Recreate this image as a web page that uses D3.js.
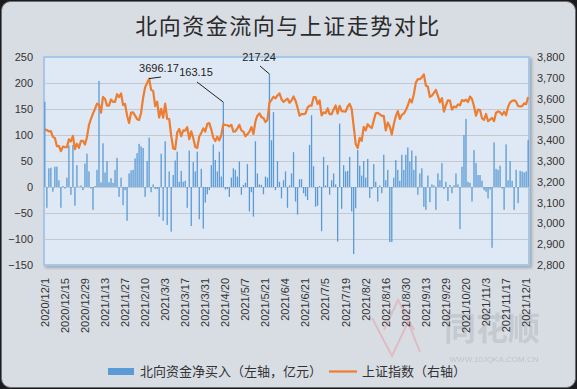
<!DOCTYPE html>
<html>
<head>
<meta charset="utf-8">
<script src="https://cdn.jsdelivr.net/npm/d3@7"></script>
<style>
  html, body { margin: 0; padding: 0; background: #1b1b1b; }
  svg { display: block; }
</style>
</head>
<body>
<svg id="chart" width="577" height="389"></svg>
<script>
// 北向资金净买入（亿元），每个交易日一个值
const flow = [
  164, -40, 36, 37, -9, 39, 39, 13, -40, 2,
  -3, 18, 80, -15, 81, -36, 42, 1, 3, -6,
  45, 64, 30, -3, -44, 2, 33, 204, 9, 84,
  28, 50, 9, 17, 8, 33, 56, -19, 18, -35,
  -6, -65, 26, 32, 33, 55, 65, 83, 78, 75,
  -19, 50, 95, -10, 5, -4, -4, -57, 64, -65,
  88, -73, 30, -86, 23, 51, 68, 10, 31, 10,
  12, -40, 70, -75, 48, 30, 68, -62, 35, -80,
  -30, -14, -6, 42, 82, 52, 30, 68, 20, 163.15,
  -5, -4, -19, 18, 36, 33, 20, 49, -15, 4,
  8, 44, -47, -10, -57, 88, 26, 5, 4, -14,
  20, 18, 217.24, 90, 144, -6, 50, 10, -22, 13,
  30, -40, 3, 26, 67, -28, -53, 15, 15, -12,
  -18, -25, 81, 138, 40, -38, -36, 2, -85, 58,
  3, 42, -15, 13, 26, 5, -105, 122, -42, 42,
  30, 31, 58, -47, -129, -41, 71, 41, 22, 50,
  18, 54, -21, -4, 44, 10, -28, 3, -12, 62,
  13, 33, -106, -106, 18, 52, 33, 12, 62, 33,
  62, 76, 49, 70, 33, 60, -15, 26, 36, -38,
  -44, 22, -29, 5, 3, -44, 26, 13, 46, -4,
  10, -27, 4, -12, 3, 26, 5, -81, 39, 100,
  131, 10, 8, -28, 71, 46, 23, 23, 12, -6,
  -9, -22, -5, -117, 86, 35, 33, 41, -3, -44,
  82, 13, 50, 12, -44, 33, -31, 31, 30, 28,
  30, 90
];

// 上证指数收盘
const sse = [
  3451, 3449, 3442, 3444, 3416, 3411, 3371, 3373, 3347, 3369,
  3367, 3366, 3404, 3394, 3421, 3357, 3383, 3363, 3397, 3397,
  3379, 3414, 3473, 3503, 3528, 3550, 3576, 3570, 3532, 3608,
  3598, 3566, 3566, 3596, 3584, 3584, 3621, 3607, 3625, 3569,
  3574, 3519, 3483, 3533, 3534, 3518, 3501, 3497, 3532, 3603,
  3655, 3675, 3696.17, 3642, 3637, 3564, 3585, 3509, 3551, 3508,
  3576, 3503, 3502, 3421, 3360, 3357, 3437, 3454, 3419, 3447,
  3446, 3463, 3405, 3443, 3411, 3367, 3363, 3418, 3435, 3457,
  3441, 3479, 3482, 3451, 3412, 3396, 3417, 3399, 3426, 3477,
  3473, 3472, 3466, 3474, 3441, 3442, 3457, 3474, 3447, 3441,
  3419, 3428, 3441, 3463, 3430, 3490, 3518, 3529, 3511, 3507,
  3487, 3498, 3581, 3593, 3609, 3601, 3615, 3625, 3597, 3584,
  3592, 3600, 3580, 3591, 3610, 3590, 3557, 3518, 3525, 3525,
  3529, 3557, 3566, 3566, 3607, 3607, 3574, 3591, 3519, 3534,
  3530, 3553, 3525, 3525, 3548, 3567, 3528, 3565, 3540, 3539,
  3537, 3562, 3575, 3550, 3467, 3382, 3362, 3411, 3397, 3464,
  3447, 3477, 3466, 3458, 3494, 3529, 3532, 3524, 3517, 3517,
  3447, 3485, 3466, 3427, 3477, 3515, 3540, 3502, 3522, 3528,
  3544, 3567, 3597, 3582, 3621, 3677, 3694, 3693, 3703, 3716,
  3663, 3657, 3608, 3614, 3628, 3642, 3613, 3582, 3602, 3537,
  3568, 3592, 3591, 3547, 3562, 3558, 3572, 3568, 3593, 3588,
  3595, 3583, 3610, 3598, 3563, 3518, 3547, 3545, 3505, 3498,
  3526, 3491, 3499, 3507, 3492, 3532, 3539, 3534, 3522, 3537,
  3520, 3561, 3582, 3589, 3592, 3585, 3564, 3563, 3564, 3577,
  3573, 3608
];

// 每 10 个交易日一个刻度
const tickLabels = [
  "2020/12/1", "2020/12/15", "2020/12/29", "2021/1/13", "2021/1/27",
  "2021/2/10", "2021/3/3", "2021/3/17", "2021/3/31", "2021/4/20",
  "2021/5/7", "2021/5/21", "2021/6/4", "2021/6/21", "2021/7/5",
  "2021/7/19", "2021/8/2", "2021/8/16", "2021/8/30", "2021/9/13",
  "2021/9/29", "2021/10/20", "2021/11/3", "2021/11/17", "2021/12/1"
];
const leftTicks = [-150, -100, -50, 0, 50, 100, 150, 200, 250];
const rightTicks = [2800, 2900, 3000, 3100, 3200, 3300, 3400, 3500, 3600, 3700, 3800];

const numFont = "'Liberation Sans', Arial, sans-serif";
const cjkFont = "'Noto Sans CJK SC', sans-serif";

const svg = d3.select("#chart");
const plot = { left: 44, right: 529, top: 57, bottom: 265 };

const x = d3.scaleBand()
  .domain(d3.range(flow.length))
  .range([plot.left, plot.right])
  .paddingInner(0.35)
  .paddingOuter(0.1);
const yL = d3.scaleLinear().domain([-150, 250]).range([plot.bottom, plot.top]);
const yR = d3.scaleLinear().domain([2800, 3800]).range([plot.bottom, plot.top]);
const cx = (i) => x(i) + x.bandwidth() / 2;

// panel background
svg.append("rect")
  .attr("x", 1.5).attr("y", 1.5)
  .attr("width", 574).attr("height", 386)
  .attr("rx", 9)
  .attr("fill", "#d8dde4")
  .attr("stroke", "#6b6f75")
  .attr("stroke-width", 1);

const defs = svg.append("defs");
const sh = defs.append("filter").attr("id", "shadow")
  .attr("x", "-5%").attr("y", "-5%").attr("width", "110%").attr("height", "115%");
sh.append("feDropShadow")
  .attr("dx", 2).attr("dy", 2).attr("stdDeviation", 1.5)
  .attr("flood-color", "#7d8590").attr("flood-opacity", 0.6);

// title
svg.append("text")
  .attr("x", 288).attr("y", 34)
  .attr("text-anchor", "middle")
  .attr("font-family", cjkFont)
  .attr("font-size", 22)
  .attr("letter-spacing", 1.5)
  .attr("fill", "#2b2b2b")
  .text("北向资金流向与上证走势对比");

// watermark
const wm = svg.append("g").attr("opacity", 0.5);
wm.append("path")
  .attr("d", "M372,318 L392,356 L408,322 L420,352 M384,330 L398,300 L414,330")
  .attr("fill", "none").attr("stroke", "#e79aa2").attr("stroke-width", 2);
wm.append("text")
  .attr("x", 492).attr("y", 340)
  .attr("text-anchor", "middle")
  .attr("font-family", cjkFont).attr("font-weight", 700)
  .attr("font-size", 32).attr("fill", "#b4b8be")
  .text("同花顺");
wm.append("text")
  .attr("x", 494).attr("y", 362)
  .attr("text-anchor", "middle")
  .attr("font-family", numFont)
  .attr("font-size", 8).attr("fill", "#a4a8ae")
  .text("WWW.10JQKA.COM.CN");

// plot area
svg.append("rect")
  .attr("x", plot.left).attr("y", plot.top)
  .attr("width", plot.right - plot.left)
  .attr("height", plot.bottom - plot.top)
  .attr("fill", "#dfe9f5")
  .attr("stroke", "#a8c7e8")
  .attr("stroke-width", 2)
  .attr("filter", "url(#shadow)");

// gridlines
svg.append("g")
  .selectAll("line")
  .data(leftTicks.filter((d) => d > -150 && d < 250))
  .join("line")
  .attr("x1", plot.left).attr("x2", plot.right)
  .attr("y1", (d) => Math.round(yL(d)) + 0.5)
  .attr("y2", (d) => Math.round(yL(d)) + 0.5)
  .attr("stroke", "#c4c9d0")
  .attr("stroke-width", 1);

// bars
svg.append("g")
  .selectAll("rect")
  .data(flow)
  .join("rect")
  .attr("x", (d, i) => x(i))
  .attr("width", x.bandwidth())
  .attr("y", (d) => yL(Math.max(0, d)))
  .attr("height", (d) => Math.abs(yL(d) - yL(0)))
  .attr("fill", "#5b9bd5");

// index line
svg.append("path")
  .datum(sse)
  .attr("fill", "none")
  .attr("stroke", "#ed7d31")
  .attr("stroke-width", 2.2)
  .attr("stroke-linejoin", "round")
  .attr("d", d3.line().x((d, i) => cx(i)).y((d) => yR(d)));

// left axis
svg.append("g")
  .attr("transform", `translate(${plot.left},0)`)
  .call(d3.axisLeft(yL).tickValues(leftTicks).tickSize(0).tickPadding(11))
  .call((g) => g.select(".domain").remove())
  .call((g) => g.selectAll("text")
    .attr("font-family", numFont).attr("font-size", 11).attr("fill", "#333"));

// right axis
svg.append("g")
  .attr("transform", `translate(${plot.right},0)`)
  .call(d3.axisRight(yR).tickValues(rightTicks).tickSize(0).tickPadding(8)
    .tickFormat(d3.format(",")))
  .call((g) => g.select(".domain").remove())
  .call((g) => g.selectAll("text")
    .attr("font-family", numFont).attr("font-size", 11).attr("fill", "#333"));

// x axis (rotated labels)
svg.append("g")
  .attr("transform", `translate(0,${plot.bottom})`)
  .call(d3.axisBottom(x)
    .tickValues(d3.range(0, flow.length, 10))
    .tickFormat((i) => tickLabels[i / 10])
    .tickSize(0))
  .call((g) => g.select(".domain").remove())
  .call((g) => g.selectAll("text")
    .attr("transform", "rotate(-90)")
    .attr("text-anchor", "end")
    .attr("x", -13).attr("y", 0).attr("dy", "0.35em")
    .attr("font-family", numFont).attr("font-size", 11).attr("fill", "#333"));

// data labels with leader lines
const notes = [
  { text: "3696.17", px: cx(52), py: yR(sse[52]), tx: 159, ty: 72, lx: 161, ly: 77 },
  { text: "163.15", px: cx(89), py: yL(flow[89]), tx: 196, ty: 76, lx: 197, ly: 82 },
  { text: "217.24", px: cx(112), py: yL(flow[112]), tx: 259, ty: 61, lx: 260, ly: 66 }
];
const ng = svg.append("g");
ng.selectAll("line")
  .data(notes)
  .join("line")
  .attr("x1", (d) => d.lx).attr("y1", (d) => d.ly)
  .attr("x2", (d) => d.px).attr("y2", (d) => d.py)
  .attr("stroke", "#222").attr("stroke-width", 1);
ng.selectAll("text")
  .data(notes)
  .join("text")
  .attr("x", (d) => d.tx).attr("y", (d) => d.ty)
  .attr("text-anchor", "middle")
  .attr("font-family", numFont).attr("font-size", 11).attr("fill", "#222")
  .text((d) => d.text);

// legend
const lg = svg.append("g").attr("font-family", cjkFont).attr("font-size", 13).attr("fill", "#333");
lg.append("rect")
  .attr("x", 108).attr("y", 368).attr("width", 26).attr("height", 7)
  .attr("fill", "#5b9bd5");
lg.append("text").attr("x", 140).attr("y", 376).text("北向资金净买入（左轴，亿元）");
lg.append("line")
  .attr("x1", 329).attr("x2", 357).attr("y1", 371.5).attr("y2", 371.5)
  .attr("stroke", "#ed7d31").attr("stroke-width", 2.2);
lg.append("text").attr("x", 362).attr("y", 376).text("上证指数（右轴）");
</script>
</body>
</html>
